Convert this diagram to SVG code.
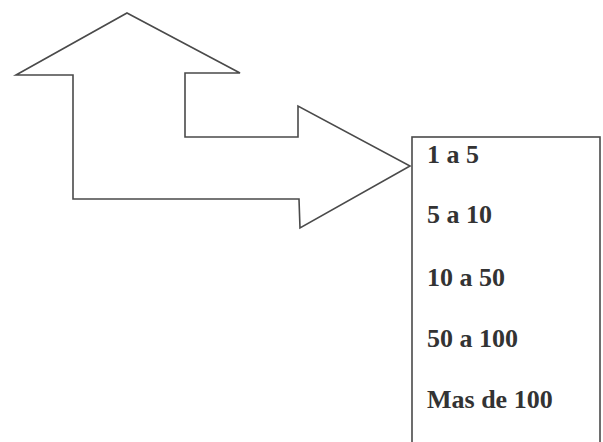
<svg xmlns="http://www.w3.org/2000/svg" width="603" height="442" viewBox="0 0 603 442">
<style>
.ln{fill:#ffffff;stroke:#4a4a4a;stroke-width:1.6;stroke-linejoin:miter}
.lb{font-family:"Liberation Serif","Times New Roman",serif;font-weight:bold;font-size:26px;fill:#333333}
</style>
<rect width="603" height="442" fill="#ffffff"/>
<g id="arrow">
<path class="ln" d="M127,13 L240,73 L185,73 L185,137 L298,137 L298,106 L410,166 L300,228 L299,199 L73,199 L73,75 L16,75 Z"/>
</g>
<g id="options">
<rect class="ln" x="412" y="137" width="188" height="320"/>
<text class="lb" x="427" y="163">1 a 5</text>
<text class="lb" x="427" y="223">5 a 10</text>
<text class="lb" x="427" y="286">10 a 50</text>
<text class="lb" x="427" y="347">50 a 100</text>
<text class="lb" x="427" y="408">Mas de 100</text>
</g>
</svg>
